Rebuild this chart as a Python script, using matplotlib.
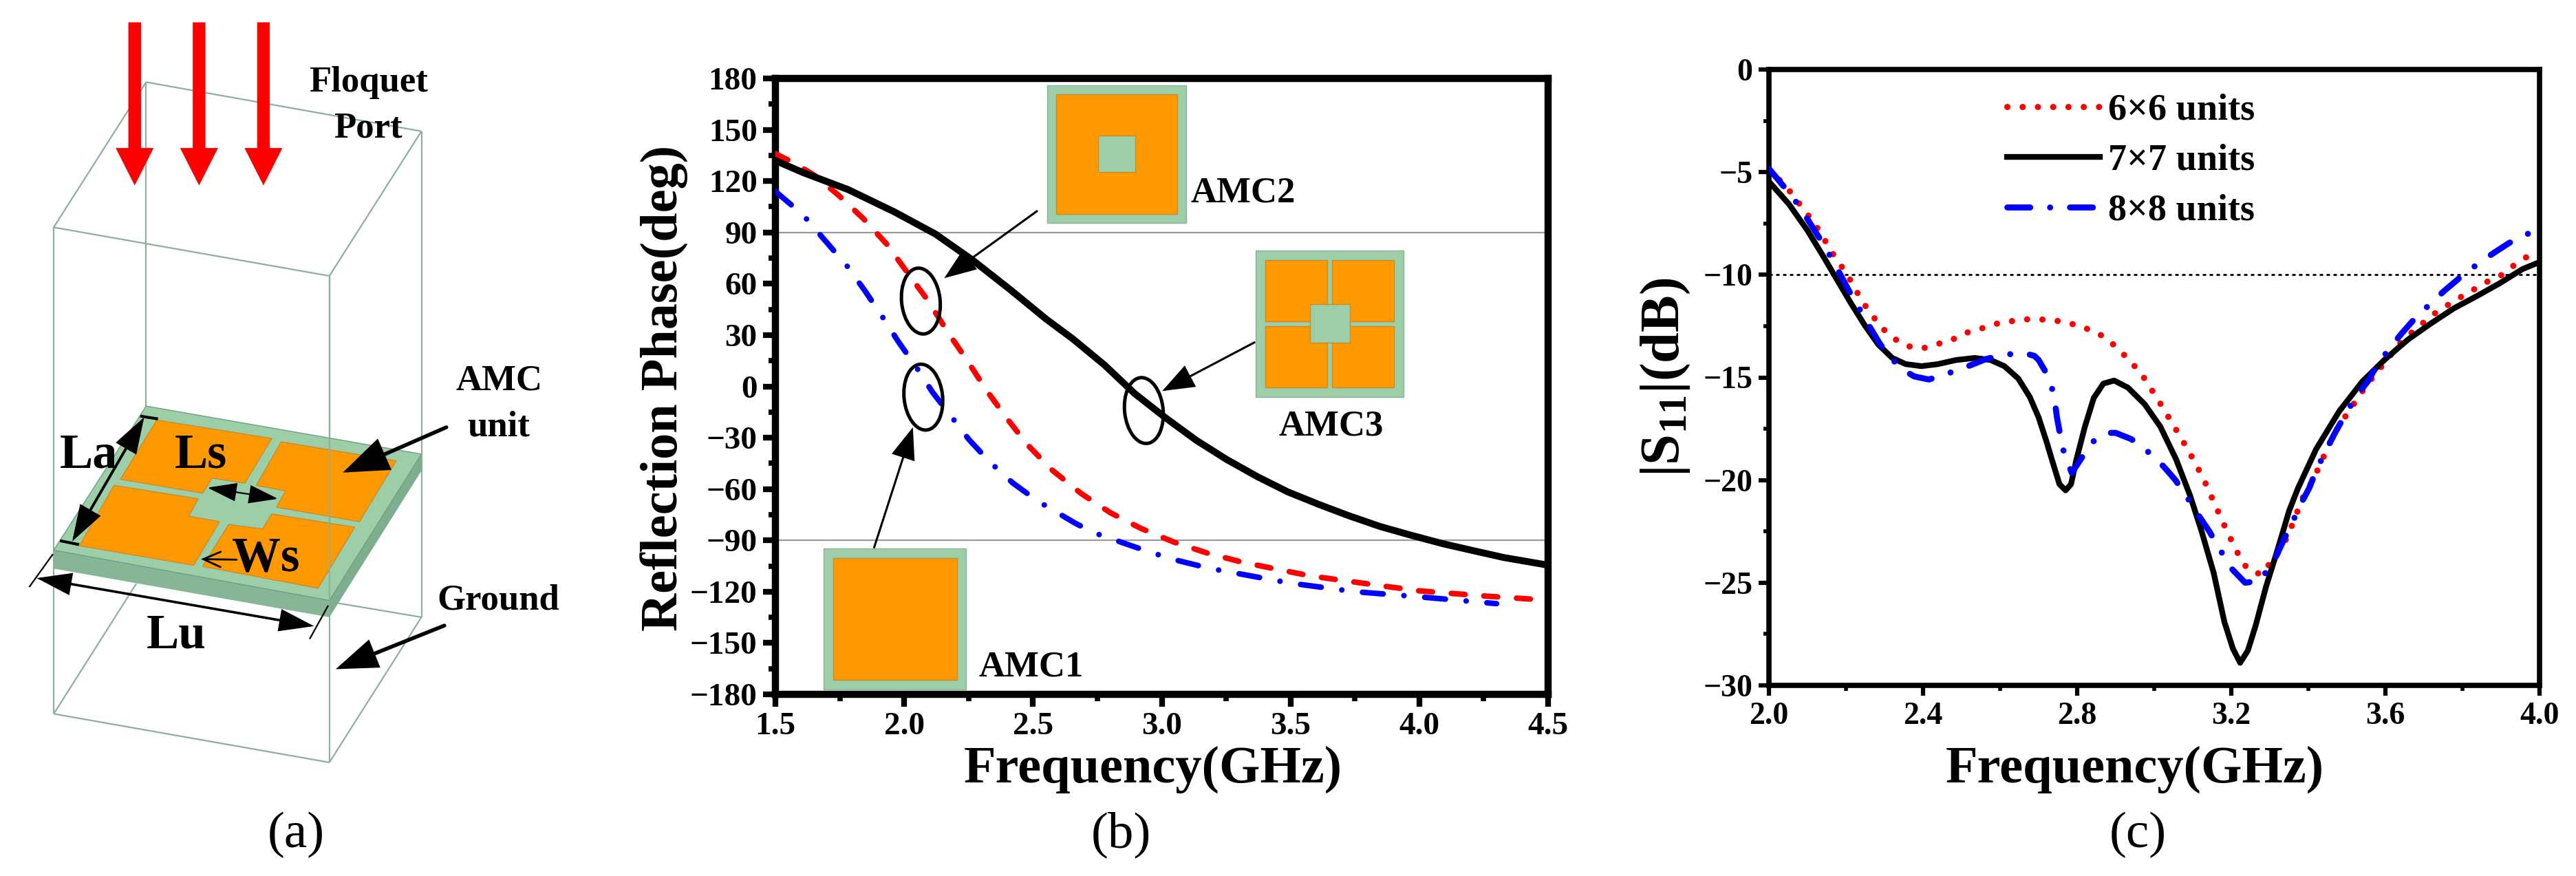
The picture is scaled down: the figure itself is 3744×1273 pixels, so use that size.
import matplotlib
matplotlib.use("Agg")
import matplotlib.pyplot as plt
from matplotlib.patches import Polygon, Rectangle, Ellipse, FancyArrowPatch
from matplotlib.ticker import MultipleLocator

plt.rcParams['font.family'] = ['Liberation Serif', 'DejaVu Serif']
plt.rcParams['mathtext.fontset'] = 'custom'
plt.rcParams['mathtext.rm'] = 'Liberation Serif:bold'
plt.rcParams['mathtext.bf'] = 'Liberation Serif:bold'
plt.rcParams['mathtext.it'] = 'Liberation Serif:bold'

# ---------------- data: panel (b) ----------------
b_freq_amc3 = [1.5, 1.607, 1.783, 1.962, 2.122, 2.264, 2.408, 2.55, 2.657, 2.777, 2.895, 3.015, 3.135, 3.253, 3.373, 3.49,
               3.61, 3.73, 3.848, 3.968, 4.09, 4.206, 4.327, 4.5]
b_phase_amc3 = [132, 125, 115, 102, 89, 74, 57, 39.5, 27.5, 12.6, -4.2, -18.4, -31.6, -42.8, -52.9, -61.7,
                -69, -75.8, -81.9, -87, -91.9, -95.9, -100, -104.5]
b_freq_amc2 = [1.5, 1.58, 1.655, 1.743, 1.842, 1.933, 2.015, 2.093, 2.168, 2.243, 2.318, 2.395, 2.478, 2.571, 2.686, 2.8,
               2.919, 3.047, 3.178, 3.311, 3.445, 3.578, 3.712, 3.85, 4.0, 4.25, 4.5]
b_phase_amc2 = [136, 130, 123, 112, 98, 83, 66, 50, 32, 15.5, -2, -18, -34, -48.5, -62.5, -73.8,
                -83, -91, -97.5, -102.7, -106.8, -110.8, -113.6, -116.5, -119.5, -122.5, -125]
b_freq_amc1 = [1.5, 1.57, 1.62, 1.70, 1.78, 1.847, 1.914, 1.978, 2.048, 2.11, 2.185, 2.251, 2.331, 2.422, 2.518, 2.662,
               2.734, 2.841, 2.956, 3.068, 3.19, 3.30, 3.426, 3.5, 3.75, 4.0, 4.3]
b_phase_amc1 = [114, 105, 98, 84, 70, 56, 41, 26, 11, -3.4, -18, -31, -44, -56.5, -67, -79.8,
                -85.4, -91, -97, -102, -106.5, -109.5, -113, -115, -120, -123, -127]
b_series_labels = ['AMC1', 'AMC2', 'AMC3']
b_xticks = [1.5, 2.0, 2.5, 3.0, 3.5, 4.0, 4.5]
b_yticks = [-180, -150, -120, -90, -60, -30, 0, 30, 60, 90, 120, 150, 180]
b_reflines = [90, -90]

# ---------------- data: panel (c) ----------------
c_freq_7 = [2.002, 2.052, 2.1, 2.141, 2.177, 2.212, 2.248, 2.284, 2.32, 2.355, 2.396, 2.439, 2.486, 2.534, 2.575, 2.611,
            2.647, 2.677, 2.70, 2.72, 2.736, 2.754, 2.77, 2.784, 2.798, 2.82, 2.843, 2.868, 2.896, 2.932, 2.975, 3.016,
            3.057, 3.093, 3.123, 3.154, 3.182, 3.204, 3.223, 3.243, 3.263, 3.29, 3.32, 3.35, 3.373, 3.42, 3.48, 3.54,
            3.6, 3.659, 3.718, 3.778, 3.838, 3.896, 3.956, 3.995]
c_s11_7 = [-5.5, -6.56, -7.84, -9.1, -10.25, -11.36, -12.44, -13.4, -14.05, -14.35, -14.45, -14.35, -14.15, -14.05, -14.15,
           -14.45, -15.05, -15.95, -16.95, -18.1, -19.1, -20.2, -20.5, -20.2, -19.0, -17.4, -16.0, -15.3, -15.15, -15.5,
           -16.3, -17.4, -19.0, -20.75, -22.5, -24.5, -26.9, -28.2, -28.9, -28.3, -27.1, -25.2, -23.4, -21.5, -20.4, -18.5,
           -16.65, -15.2, -14.1, -13.15, -12.37, -11.63, -11.03, -10.42, -9.72, -9.42]
c_freq_6 = [2.0, 2.025, 2.05, 2.075, 2.098, 2.123, 2.144, 2.164, 2.186, 2.207, 2.227, 2.246, 2.268, 2.291, 2.321, 2.361, 2.4,
            2.436, 2.475, 2.509, 2.548, 2.586, 2.625, 2.664, 2.704, 2.75, 2.8, 2.85, 2.879, 2.909, 2.937, 2.966, 3.007, 3.049,
            3.09, 3.127, 3.159, 3.189, 3.223, 3.243, 3.278, 3.327, 3.346, 3.39, 3.41, 3.459, 3.477, 3.541, 3.566, 3.614,
            3.638, 3.668, 3.698, 3.729, 3.763, 3.798, 3.832, 3.866, 3.904, 3.93, 3.962, 3.995]
c_s11_6 = [-4.85, -5.33, -5.83, -6.44, -7.0, -7.64, -8.28, -8.92, -9.52, -10.12, -10.79, -11.4, -11.97, -12.54, -13.07, -13.48,
           -13.58, -13.38, -13.17, -12.84, -12.64, -12.4, -12.27, -12.17, -12.17, -12.25, -12.45, -12.8, -13.15, -13.65, -14.2,
           -14.8, -16.0, -17.3, -18.6, -19.9, -21.25, -22.5, -23.8, -24.35, -24.6, -23.4, -22.75, -20.65, -20.08, -18.07,
           -17.43, -15.65, -15.02, -13.91, -13.34, -12.81, -12.34, -11.87, -11.46, -11.06, -10.69, -10.32, -9.99, -9.59,
           -9.19, -8.78]
c_freq_8 = [2.0, 2.04, 2.07, 2.096, 2.13, 2.155, 2.18, 2.207, 2.232, 2.254, 2.286, 2.311, 2.35, 2.377, 2.415, 2.457, 2.504, 2.564,
            2.61, 2.659, 2.689, 2.70, 2.725, 2.739, 2.748, 2.757, 2.766, 2.786, 2.814, 2.836, 2.873, 2.9, 2.94, 2.977, 3.025,
            3.055, 3.084, 3.118, 3.143, 3.168, 3.2, 3.236, 3.275, 3.314, 3.334, 3.355, 3.382, 3.402, 3.421, 3.448, 3.47, 3.493,
            3.525, 3.554, 3.577, 3.614, 3.643, 3.673, 3.721, 3.754, 3.79, 3.843, 3.88, 3.921, 3.98]
c_s11_8 = [-4.83, -5.73, -6.44, -7.17, -8.18, -8.95, -9.8, -10.76, -11.56, -12.3, -13.3, -13.97, -14.65, -14.95, -15.1, -14.85,
           -14.55, -14.1, -13.9, -13.8, -13.95, -14.15, -14.95, -15.8, -17.0, -17.9, -18.7, -19.65, -18.85, -18.2, -17.7, -17.7,
           -18.0, -18.5, -19.35, -20.0, -20.8, -21.8, -22.5, -23.3, -24.3, -25.0, -24.9, -23.8, -23.0, -22.2, -21.1, -20.4,
           -19.5, -18.47, -17.67, -16.9, -15.9, -15.2, -14.45, -13.5, -12.84, -12.2, -11.33, -10.76, -10.19, -9.42, -8.95,
           -8.45, -7.91]
c_labels = ['6×6 units', '7×7 units', '8×8 units']
c_xticks = [2.0, 2.4, 2.8, 3.2, 3.6, 4.0]
c_yticks = [0, -5, -10, -15, -20, -25, -30]
c_refline = -10

W, H = 3744, 1273
fig = plt.figure(figsize=(W / 100, H / 100), dpi=100, facecolor='white')


def add_axes_px(l, t, r, b):
    return fig.add_axes([l / W, 1 - b / H, (r - l) / W, (b - t) / H])


# ---------------- overlay in pixel coordinates ----------------
ov = fig.add_axes([0, 0, 1, 1], zorder=10)
ov.set_xlim(0, W)
ov.set_ylim(H, 0)
ov.axis('off')
ov.patch.set_alpha(0)

GREEN = '#9CCFA8'
GREEN_D = '#86B696'
ORANGE = '#FF9900'
BOXC = '#8FAF9B'
OEDGE = '#C98A2C'


def za(x, y):   # panel (a) reading coordinates
    return x / 1.742, y / 1.232


def zb(x, y):   # panel (b) reading coordinates
    return 850 + x / 1.12, y / 1.232


def zc(x, y):
    return 2250 + x / 1.0495, y / 1.232


def poly(pts, z, **kw):
    ov.add_patch(Polygon([z(*p) for p in pts], closed=True, **kw))


def seg(p, q, z, color='k', lw=1.5, zorder=3):
    a, b = z(*p), z(*q)
    ov.plot([a[0], b[0]], [a[1], b[1]], color=color, lw=lw, zorder=zorder, solid_capstyle='butt')


def arrow(p, q, z, style='-|>', lw=3, hl=4.2, hw=1.5, zorder=6):
    st = f'{style},head_length={hl},head_width={hw}'
    ov.add_patch(FancyArrowPatch(z(*p), z(*q), arrowstyle=st, mutation_scale=10, lw=lw, color='k',
                                 shrinkA=0, shrinkB=0, zorder=zorder, joinstyle='miter'))


def txt(p, z, s, size, weight='bold', zorder=8):
    x, y = z(*p)
    ov.text(x, y, s, fontsize=size, fontweight=weight, ha='center', va='center', zorder=zorder)


# ---- panel (a) ----
box_edges = [((370, 147), (1067, 235)), ((370, 147), (136, 407)), ((136, 407), (834, 494)), ((834, 494), (1067, 235)),
             ((136, 407), (136, 1278)), ((834, 494), (834, 1365)), ((1067, 235), (1067, 1105)), ((370, 147), (370, 730)),
             ((136, 1278), (834, 1365)), ((834, 1365), (1067, 1105)), ((1067, 1105), (840, 1078)), ((136, 1278), (345, 1045))]
for p, q in box_edges:
    seg(p, q, za, color=BOXC, lw=1.6, zorder=1)

poly([(136, 985), (834, 1075), (834, 1105), (136, 1018)], za, fc=GREEN_D, ec='none', zorder=2)
poly([(834, 1075), (1067, 813), (1067, 843), (834, 1105)], za, fc='#7DAE8D', ec='none', zorder=2)
poly([(370, 727), (1067, 813), (834, 1075), (136, 985)], za, fc=GREEN, ec='#6F9F80', lw=1, zorder=2)
seg((834, 494), (834, 1075), za, color=BOXC, lw=1.6, zorder=5)
for pts in ([(397, 752), (688, 785), (620, 865), (537, 856), (513, 883), (305, 858)],
            [(712, 791), (1003, 825), (910, 934), (700, 908), (723, 879), (649, 869)],
            [(289, 869), (502, 893), (478, 924), (556, 934), (490, 1012), (201, 977)],
            [(579, 939), (665, 947), (688, 920), (898, 944), (805, 1053), (513, 1014)]):
    poly(pts, za, fc=ORANGE, ec=OEDGE, lw=1, zorder=3)

for cx in (341, 504, 667):
    poly([(cx - 16, 40), (cx + 16, 40), (cx + 16, 265), (cx + 48, 265), (cx, 332), (cx - 48, 265), (cx - 16, 265)],
         za, fc='#FF0000', ec='none', zorder=4)

arrow((1130, 765), (868, 846), za, lw=4, hl=4.0, hw=1.5)
arrow((1125, 1120), (850, 1198), za, lw=4, hl=3.6, hw=1.3)
arrow((365, 747), (183, 969), za, style='<|-|>', lw=2.8, hl=3.2, hw=1.05)
arrow((525, 873), (704, 893), za, style='<|-|>', lw=1.6, hl=2.7, hw=0.85)
arrow((93, 1035), (795, 1121), za, style='<|-|>', lw=2.6, hl=3.1, hw=1.0)
arrow((599, 1002), (509, 1001), za, style='->', lw=2.0, hl=1.8, hw=0.8)
seg((74, 1051), (134, 992), za, lw=1.6, zorder=6)
seg((784, 1144), (831, 1084), za, lw=1.6, zorder=6)
seg((152, 968), (200, 975), za, lw=3, zorder=6)
seg((355, 745), (400, 750), za, lw=3, zorder=6)

txt((932, 148), za, 'Floquet', 38)
txt((932, 230), za, 'Port', 38)
txt((1263, 682), za, 'AMC', 38)
txt((1263, 765), za, 'unit', 38)
txt((1262, 1075), za, 'Ground', 38)
txt((225, 815), za, 'La', 52)
txt((508, 815), za, 'Ls', 52)
txt((672, 1000), za, 'Ws', 51)
txt((447, 1138), za, 'Lu', 51)
txt((750, 1495), za, '(a)', 54, weight='normal')
txt((873, 1495), zb, '(b)', 54, weight='normal')
txt((900, 1495), zc, '(c)', 54, weight='normal')


def rect(p, q, z, fc, ec='none', lw=1, zorder=5):
    a, b = z(*p), z(*q)
    ov.add_patch(Rectangle(a, b[0] - a[0], b[1] - a[1], fc=fc, ec=ec, lw=lw, zorder=zorder))


# ---- panel (b) unit-cell insets ----
rect((753, 153), (979, 399), zb, GREEN, ec=BOXC)
rect((767, 169), (964, 383), zb, ORANGE, ec=OEDGE)
rect((835, 243), (896, 308), zb, GREEN, ec=OEDGE)

rect((1092, 448), (1333, 711), zb, GREEN, ec=BOXC)
for p, q in (((1108, 466), (1208, 575)), ((1216, 466), (1317, 575)), ((1108, 584), (1208, 693)), ((1216, 584), (1317, 693))):
    rect(p, q, zb, ORANGE, ec=OEDGE)
rect((1180, 545), (1245, 614), zb, GREEN, ec=OEDGE, zorder=5.5)

rect((389, 982), (621, 1234), zb, GREEN, ec=BOXC)
rect((404, 999), (606, 1217), zb, ORANGE, ec=OEDGE)

txt((1072, 345), zb, b_series_labels[1], 38)
txt((1215, 763), zb, b_series_labels[2], 38)
txt((727, 1195), zb, b_series_labels[0], 38)

for c in ((547, 539), (551, 711), (910, 735)):
    x, y = zb(*c)
    ov.add_patch(Ellipse((x, y), 56, 96, angle=-6, fc='none', ec='k', lw=3.6, zorder=7))
arrow((736, 378), (585, 498), zb, lw=2.2, hl=2.9, hw=1.1)
arrow((1090, 613), (940, 700), zb, lw=2.2, hl=2.9, hw=1.1)
arrow((471, 980), (534, 765), zb, lw=2.2, hl=2.9, hw=1.1)

# ---------------- panel (b) ----------------
axb = add_axes_px(1127, 114, 2250, 1009)
for v in b_reflines:
    axb.axhline(v, color='#9a9a9a', lw=1.6, zorder=1)
axb.plot(b_freq_amc1, b_phase_amc1, color='#0000FF', lw=5.8, ls=(0, (3.75, 3.75, 0.01, 3.75)), dash_capstyle='round', zorder=3)
axb.plot(b_freq_amc2, b_phase_amc2, color='#FF0000', lw=5.8, ls=(0, (2.5, 3.4)), dash_capstyle='round', zorder=3)
axb.plot(b_freq_amc3, b_phase_amc3, color='k', lw=7.2, zorder=4)
axb.set_xlim(1.5, 4.5)
axb.set_ylim(-180, 180)
axb.set_xticks(b_xticks)
axb.set_yticks(b_yticks)
axb.set_xticklabels([f'{v:.1f}' for v in b_xticks])
axb.xaxis.set_minor_locator(MultipleLocator(0.25))
axb.yaxis.set_minor_locator(MultipleLocator(15))
for s in axb.spines.values():
    s.set_linewidth(7.5)
axb.tick_params(which='major', direction='out', length=13, width=6, labelsize=34, pad=6)
axb.tick_params(which='minor', direction='out', length=7, width=5.5)
for t in axb.get_xticklabels() + axb.get_yticklabels():
    t.set_fontweight('bold')

px = ov.transData
axb.set_xlabel('Frequency(GHz)', fontsize=55, fontweight='bold', va='center')
axb.xaxis.set_label_coords(1676, 1118, transform=px)
axb.set_ylabel('Reflection Phase(deg)', fontsize=55, fontweight='bold', va='center')
axb.yaxis.set_label_coords(966, 564, transform=px)

# ---------------- panel (c) ----------------
axc = add_axes_px(2571, 101, 3691, 996)
axc.axhline(c_refline, color='k', lw=2, ls=(0, (1.8, 1.8)), zorder=1)
lr, = axc.plot(c_freq_6, c_s11_6, color='#FF0000', lw=6.5, ls=(0, (0.01, 2.45)), dash_capstyle='round', zorder=2)
lk, = axc.plot(c_freq_7, c_s11_7, color='k', lw=6, zorder=3)
lb, = axc.plot(c_freq_8, c_s11_8, color='#0000FF', lw=6.3, ls=(0, (3.8, 3.3, 0.01, 3.3)), dash_capstyle='round', zorder=4)
axc.set_xlim(2.0, 4.0)
axc.set_ylim(-30, 0)
axc.set_xticks(c_xticks)
axc.set_yticks(c_yticks)
axc.set_xticklabels([f'{v:.1f}' for v in c_xticks])
axc.xaxis.set_minor_locator(MultipleLocator(0.2))
axc.yaxis.set_minor_locator(MultipleLocator(2.5))
for s in axc.spines.values():
    s.set_linewidth(5.5)
axc.tick_params(which='major', direction='out', length=11, width=4.5, labelsize=33, pad=6)
axc.tick_params(which='minor', direction='out', length=6, width=4)
for t in axc.get_xticklabels() + axc.get_yticklabels():
    t.set_fontweight('bold')
axc.set_xlabel('Frequency(GHz)', fontsize=55, fontweight='bold', va='center')
axc.xaxis.set_label_coords(3103, 1118, transform=px)
axc.set_ylabel(r'$\mathbf{|S_{11}|(dB)}$', fontsize=58, va='center')
axc.yaxis.set_label_coords(2421, 548, transform=px)
leg = axc.legend([lr, lk, lb], c_labels, loc='upper left', bbox_to_anchor=(2917 / W, 1 - 136 / H),
                 bbox_transform=fig.transFigure, frameon=False, handlelength=2.5,
                 handletextpad=0.22, labelspacing=0.42, borderpad=0, borderaxespad=0,
                 prop={'weight': 'bold', 'size': 39})

fig.savefig('out.png', dpi=100, facecolor='white')
